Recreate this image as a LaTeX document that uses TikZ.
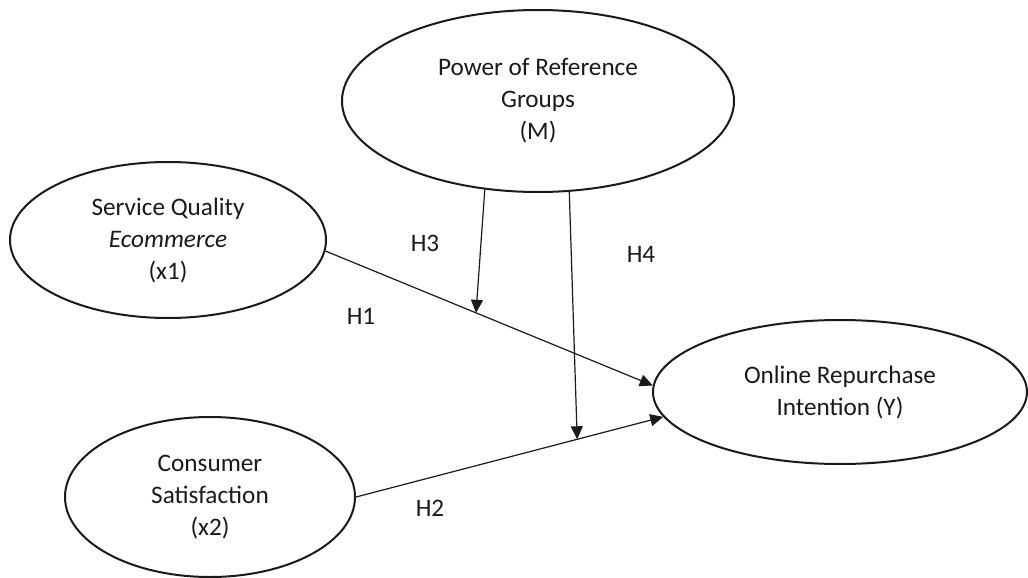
\documentclass[tikz,border=0pt]{standalone}
\usepackage{fontspec}
\setmainfont{Carlito}
\usetikzlibrary{arrows.meta,shapes.geometric}
\definecolor{plsInk}{HTML}{1A1A1A}
\tikzset{
  pls construct/.style={ellipse, draw=plsInk, line width=1pt, inner sep=0pt, align=center, text=plsInk, font=\fontsize{12.6}{16}\selectfont},
  pls path/.style={draw=plsInk, line width=0.6pt, -{Triangle[length=6.5pt,width=6pt]}},
  pls label/.style={font=\fontsize{12.6}{16}\selectfont, text=plsInk, inner sep=0pt},
}

\begin{document}
\begin{tikzpicture}[x=0.5pt,y=-0.5pt]
  \useasboundingbox (0,0) rectangle (1028,578);
  % Constructs
  \node[pls construct, minimum width=196pt, minimum height=91pt] (refgroup) at (538,101) {Power of Reference\\Groups\\(M)};
  \node[pls construct, minimum width=158pt, minimum height=78pt] (servqual) at (168,240) {Service Quality\\\textit{Ecommerce}\\(x1)};
  \node[pls construct, minimum width=145pt, minimum height=80pt] (satisf) at (210,497) {Consumer\\Satisfaction\\(x2)};
  \node[pls construct, minimum width=187pt, minimum height=72pt] (repurchase) at (840,392) {Online Repurchase\\Intention (Y)};

  % Direct paths H1, H2
  \draw[pls path] (servqual.-4) -- coordinate[pos=0.46] (h3end) (repurchase.178);
  \draw[pls path] (satisf.east) -- coordinate[pos=0.72] (h4end) (repurchase.188);

  % Moderating paths H3, H4
  \draw[pls path] (refgroup.239) -- (h3end);
  \draw[pls path] (refgroup.289) -- (h4end);

  % Hypothesis labels
  \node[pls label] (hone) at (361,316) {H1};
  \node[pls label] (htwo) at (430,508) {H2};
  \node[pls label] (hthree) at (425,243) {H3};
  \node[pls label] (hfour) at (641,254) {H4};
\end{tikzpicture}
\end{document}
